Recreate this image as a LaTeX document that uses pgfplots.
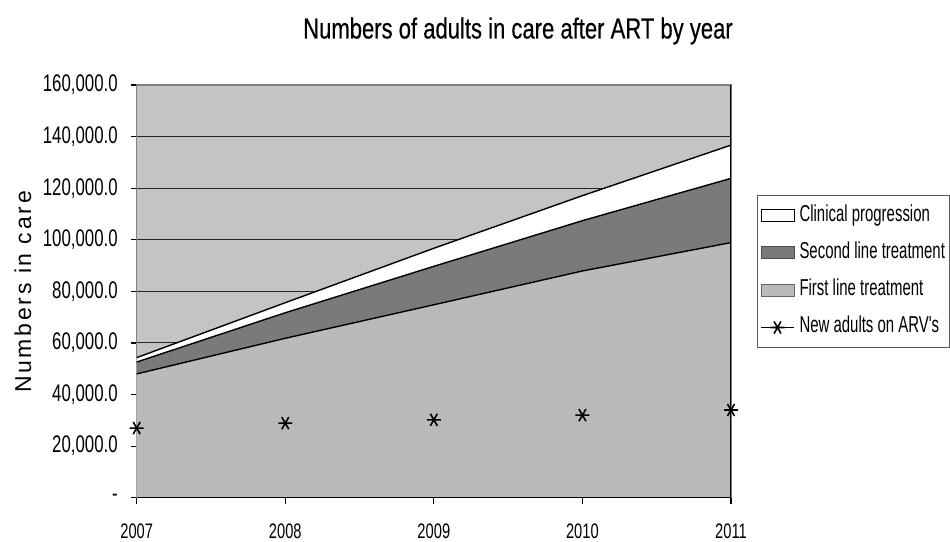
\documentclass[border=0pt]{standalone}
\usepackage{pgfplots}
\pgfplotsset{compat=1.18}
\usepackage{pgfplotstable}
\usepackage{fontspec}
\setmainfont{Liberation Sans}[FakeStretch=0.70]
\newfontfamily\titlefont{Liberation Sans}[FakeStretch=0.76, FakeBold=0.4]
\newfontfamily\legendfont{Liberation Sans}[FakeStretch=0.65]
\newfontfamily\ylabelfont{Liberation Sans}[LetterSpace=12]

\definecolor{plotbg}{HTML}{C4C4C4}
\definecolor{firstline}{HTML}{BABABA}
\definecolor{secondline}{HTML}{7A7A7A}

% adults in care by year: stacked components and new adults starting ARVs
\pgfplotstableread{
idx first second clinical newadults
0 48000 4600 1700 27000
1 61800 9900 3900 28900
2 74800 14900 7000 30200
3 87900 19500 9700 32000
4 98900 24900 12900 34000
}\caretable

\begin{document}
\begin{tikzpicture}
\path[use as bounding box] (0pt,0pt) rectangle (475pt,271pt);
\begin{axis}[
  scale only axis, width=297.15pt, height=206.35pt,
  at={(68.35pt,22.15pt)}, anchor=south west,
  xmin=0, xmax=4, ymin=0, ymax=160000,
  xtick={0,1,2,3,4}, xticklabels={2007,2008,2009,2010,2011},
  ytick={0,20000,40000,60000,80000,100000,120000,140000,160000},
  yticklabels={{-},{20,000.0},{40,000.0},{60,000.0},{80,000.0},{100,000.0},{120,000.0},{140,000.0},{160,000.0}},
  scaled y ticks=false,
  /pgf/number format/assume math mode=true,
  xtick pos=left, ytick pos=left,
  tick align=outside, major tick length=3pt,
  tick style={black, line width=0.6pt},
  axis line style={gray, line width=0.6pt},
  axis background/.style={fill=plotbg},
  ymajorgrids, major grid style={black!85, line width=0.5pt},
  yticklabel style={font=\fontsize{12}{14}\selectfont},
  xticklabel style={font=\fontsize{10.5}{12}\selectfont},
  xticklabel shift=6.5pt, yticklabel shift=3pt,
  legend cell align=left,
  legend style={at={(axis description cs:1.0438,0.7335)}, anchor=north west,
    draw=gray!70!black, line width=0.5pt, fill=white,
    font=\legendfont\fontsize{11.5}{13}\selectfont,
    inner xsep=1.5pt, inner ysep=3.8pt, row sep=6.15pt, column sep=1.5pt,
    nodes={inner sep=1pt, text height=8pt, text depth=2.5pt}},
]
% filled bands, drawn from the overall total down to first line
\addplot[fill=white, draw=none,
  legend image code/.code={\draw[fill=white, draw=black, line width=0.5pt] (0pt,-3pt) rectangle (16.5pt,3pt);}]
  table[x=idx, y expr=\thisrow{first}+\thisrow{second}+\thisrow{clinical}] {\caretable} \closedcycle;
\addlegendentry{Clinical progression}
\addplot[fill=secondline, draw=none,
  legend image code/.code={\draw[fill=secondline, draw=gray!60!black, line width=0.5pt] (0pt,-3pt) rectangle (16.5pt,3pt);}]
  table[x=idx, y expr=\thisrow{first}+\thisrow{second}] {\caretable} \closedcycle;
\addlegendentry{Second line treatment}
\addplot[fill=firstline, draw=none,
  legend image code/.code={\draw[fill=firstline, draw=gray!80!black, line width=0.5pt] (0pt,-3pt) rectangle (16.5pt,3pt);}]
  table[x=idx, y=first] {\caretable} \closedcycle;
\addlegendentry{First line treatment}
% band outlines
\addplot[black, line width=0.7pt, forget plot]
  table[x=idx, y expr=\thisrow{first}+\thisrow{second}+\thisrow{clinical}] {\caretable};
\addplot[black, line width=0.7pt, forget plot]
  table[x=idx, y expr=\thisrow{first}+\thisrow{second}] {\caretable};
\addplot[black, line width=0.7pt, forget plot]
  table[x=idx, y=first] {\caretable};
% new adults on ARVs
\addplot[only marks, mark=asterisk, mark size=3.5pt, mark options={rotate=90}, black, line width=0.8pt,
  legend image code/.code={
    \draw[black, line width=0.5pt] (0pt,0pt) -- (16.5pt,0pt);
    \draw[black, line width=0.8pt, mark size=3.5pt] plot[mark=asterisk, mark options={rotate=90}] coordinates {(8.25pt,0pt)};}]
  table[x=idx, y=newadults] {\caretable};
\addlegendentry{New adults on ARV's}
\draw[black, line width=0.6pt] (rel axis cs:0,0) -- (rel axis cs:1,0) -- (rel axis cs:1,1);
\end{axis}
\node[font=\titlefont\fontsize{14.5}{17}\selectfont] at (259pt,255.5pt) {Numbers of adults in care after ART by year};
\node[rotate=90, font=\ylabelfont\fontsize{11.5}{14}\selectfont] at (11.5pt,125pt) {Numbers in care};
\end{tikzpicture}
\end{document}
